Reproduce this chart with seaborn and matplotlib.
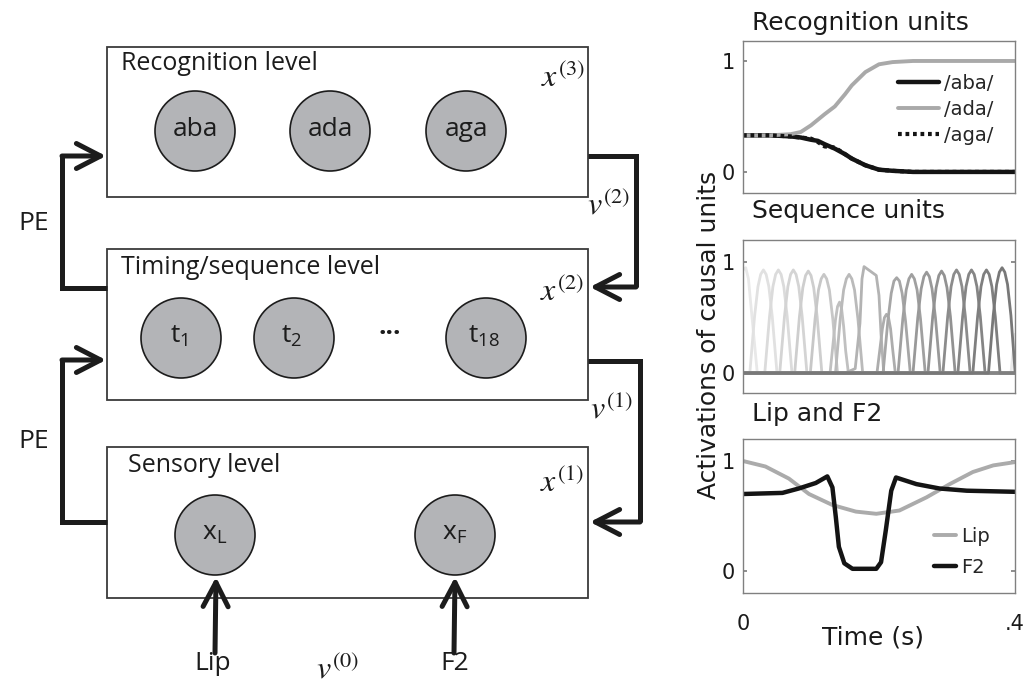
import matplotlib
matplotlib.use("Agg")
import matplotlib.pyplot as plt
from matplotlib.patches import Rectangle, Circle
import seaborn as sns
import pandas as pd

# ---------------- data ----------------
recog_time = [0.0, 0.04, 0.07, 0.085, 0.10, 0.11, 0.12, 0.135, 0.15, 0.16, 0.18, 0.20, 0.22, 0.25, 0.30, 0.40]
recog_aba = [0.33, 0.33, 0.32, 0.31, 0.29, 0.28, 0.25, 0.21, 0.16, 0.12, 0.06, 0.02, 0.01, 0.0, 0.0, 0.0]
recog_ada = [0.33, 0.33, 0.34, 0.36, 0.42, 0.47, 0.52, 0.59, 0.70, 0.78, 0.90, 0.97, 0.99, 1.0, 1.0, 1.0]
recog_aga = [0.33, 0.33, 0.32, 0.31, 0.30, 0.27, 0.23, 0.22, 0.16, 0.12, 0.06, 0.02, 0.01, 0.0, 0.0, 0.0]
recog_labels = ["/aba/", "/ada/", "/aga/"]

# one list per sequence unit (t1 ... t18)
seq_times = [
    [0.0, 0.004, 0.008, 0.013, 0.021, 0.394, 0.4],
    [0.0, 0.010, 0.017, 0.022, 0.026, 0.030, 0.034, 0.038, 0.043, 0.050, 0.4],
    [0.0, 0.032, 0.039, 0.044, 0.048, 0.052, 0.056, 0.060, 0.065, 0.072, 0.4],
    [0.0, 0.054, 0.061, 0.066, 0.070, 0.074, 0.078, 0.082, 0.087, 0.094, 0.4],
    [0.0, 0.076, 0.083, 0.088, 0.092, 0.096, 0.100, 0.104, 0.109, 0.116, 0.4],
    [0.0, 0.099, 0.106, 0.111, 0.115, 0.119, 0.123, 0.127, 0.132, 0.139, 0.4],
    [0.0, 0.128, 0.133, 0.136, 0.139, 0.142, 0.145, 0.148, 0.151, 0.155, 0.4],
    [0.0, 0.136, 0.143, 0.148, 0.152, 0.156, 0.160, 0.164, 0.169, 0.176, 0.4],
    [0.0, 0.150, 0.165, 0.172, 0.175, 0.178, 0.187, 0.196, 0.200, 0.203, 0.207, 0.4],
    [0.0, 0.197, 0.202, 0.205, 0.208, 0.211, 0.214, 0.217, 0.220, 0.224, 0.4],
    [0.0, 0.206, 0.213, 0.218, 0.222, 0.226, 0.230, 0.234, 0.239, 0.246, 0.4],
    [0.0, 0.228, 0.235, 0.240, 0.244, 0.248, 0.252, 0.256, 0.261, 0.268, 0.4],
    [0.0, 0.250, 0.257, 0.262, 0.266, 0.270, 0.274, 0.278, 0.283, 0.290, 0.4],
    [0.0, 0.272, 0.279, 0.284, 0.288, 0.292, 0.296, 0.300, 0.305, 0.312, 0.4],
    [0.0, 0.294, 0.301, 0.306, 0.310, 0.314, 0.318, 0.322, 0.327, 0.334, 0.4],
    [0.0, 0.316, 0.323, 0.328, 0.332, 0.336, 0.340, 0.344, 0.349, 0.356, 0.4],
    [0.0, 0.338, 0.345, 0.350, 0.354, 0.358, 0.362, 0.366, 0.371, 0.378, 0.4],
    [0.0, 0.361, 0.368, 0.373, 0.377, 0.381, 0.385, 0.389, 0.394, 0.400],
]
seq_acts = [
    [0.93, 0.95, 0.85, 0.52, 0.0, 0.0, 0.35],
    [0, 0, 0.51, 0.78, 0.89, 0.93, 0.89, 0.78, 0.51, 0, 0],
    [0, 0, 0.51, 0.78, 0.89, 0.93, 0.89, 0.78, 0.51, 0, 0],
    [0, 0, 0.51, 0.78, 0.89, 0.93, 0.89, 0.78, 0.51, 0, 0],
    [0, 0, 0.51, 0.77, 0.88, 0.92, 0.88, 0.77, 0.51, 0, 0],
    [0, 0, 0.49, 0.75, 0.85, 0.89, 0.85, 0.75, 0.49, 0, 0],
    [0, 0, 0.30, 0.48, 0.60, 0.64, 0.58, 0.42, 0.20, 0, 0],
    [0, 0, 0.49, 0.75, 0.85, 0.89, 0.85, 0.75, 0.49, 0, 0],
    [0, 0, 0.04, 0.45, 0.85, 0.96, 0.92, 0.88, 0.70, 0.35, 0, 0],
    [0, 0, 0.25, 0.40, 0.50, 0.53, 0.50, 0.40, 0.22, 0, 0],
    [0, 0, 0.47, 0.72, 0.83, 0.86, 0.83, 0.72, 0.47, 0, 0],
    [0, 0, 0.49, 0.75, 0.85, 0.89, 0.85, 0.75, 0.49, 0, 0],
    [0, 0, 0.50, 0.76, 0.87, 0.91, 0.87, 0.76, 0.50, 0, 0],
    [0, 0, 0.51, 0.77, 0.88, 0.92, 0.88, 0.77, 0.51, 0, 0],
    [0, 0, 0.51, 0.78, 0.89, 0.93, 0.89, 0.78, 0.51, 0, 0],
    [0, 0, 0.51, 0.78, 0.89, 0.93, 0.89, 0.78, 0.51, 0, 0],
    [0, 0, 0.51, 0.78, 0.89, 0.93, 0.89, 0.78, 0.51, 0, 0],
    [0, 0, 0.52, 0.80, 0.91, 0.95, 0.91, 0.80, 0.52, 0.02],
]

lip_time = [0.0, 0.033, 0.0675, 0.097, 0.1315, 0.166, 0.196, 0.23, 0.27, 0.304, 0.338, 0.368, 0.4]
lip_val = [1.0, 0.95, 0.84, 0.70, 0.60, 0.54, 0.52, 0.55, 0.67, 0.79, 0.90, 0.96, 0.99]
f2_time = [0.0, 0.058, 0.082, 0.107, 0.124, 0.1315, 0.1365, 0.141, 0.149, 0.161, 0.196, 0.203,
           0.210, 0.218, 0.225, 0.255, 0.289, 0.329, 0.4]
f2_val = [0.70, 0.71, 0.75, 0.80, 0.86, 0.76, 0.49, 0.22, 0.07, 0.02, 0.02, 0.08,
          0.37, 0.73, 0.85, 0.79, 0.75, 0.73, 0.72]

recog_nodes = ["aba", "ada", "aga"]
seq_nodes = ["t$_{1}$", "t$_{2}$", "t$_{18}$"]
sensory_nodes = ["x$_{\\mathrm{L}}$", "x$_{\\mathrm{F}}$"]
level_names = ["Recognition level", "Timing/sequence level", "Sensory level"]

# ---------------- style ----------------
sns.set_theme(style="white")
plt.rcParams["font.family"] = ["DejaVu Sans"]
plt.rcParams["mathtext.fontset"] = "stix"
plt.rcParams["mathtext.rm"] = "Open Sans"
plt.rcParams["mathtext.it"] = "Open Sans:italic"
plt.rcParams["mathtext.bf"] = "Open Sans:bold"
plt.rcParams["mathtext.sf"] = "Open Sans"

W, H = 1031, 688
fig = plt.figure(figsize=(W / 100, H / 100), dpi=100)

# ---------------- left: schematic, drawn in pixel space ----------------
ax0 = fig.add_axes([0, 0, 1, 1])
ax0.set_xlim(0, W)
ax0.set_ylim(H, 0)
ax0.axis("off")

diag_font = "Open Sans"
ink = "#1c1c1c"
box_x0, box_x1 = 107, 588
boxes = [(47, 197), (249, 400), (447, 598)]
for (y0, y1), name in zip(boxes, level_names):
    ax0.add_patch(Rectangle((box_x0, y0), box_x1 - box_x0, y1 - y0, fill=False, lw=1.3, ec="#3a3a3a"))
label_pos = [(121, 63), (121, 268), (128, 465)]
for (lx, ly), name in zip(label_pos, level_names):
    ax0.text(lx, ly, name, family=diag_font, fontsize=18, color=ink, ha="left", va="center")

node_r = 40
node_style = dict(fc="#b3b4b7", ec=ink, lw=1.2)
for cx, txt in zip([195, 330, 466], recog_nodes):
    ax0.add_patch(Circle((cx, 131), node_r, **node_style))
    ax0.text(cx, 129, txt, family=diag_font, fontsize=19, color=ink, ha="center", va="center")
for cx, txt in zip([181, 294, 486], seq_nodes):
    ax0.add_patch(Circle((cx, 338), node_r, **node_style))
    ax0.text(cx - 2, 336, txt, family=diag_font, math_fontfamily="custom", fontsize=19,
             color=ink, ha="center", va="center")
ax0.text(390, 326, "...", family=diag_font, fontsize=19, color=ink, ha="center", va="center",
         fontweight="bold")
for cx, txt in zip([215, 455], sensory_nodes):
    ax0.add_patch(Circle((cx, 535), node_r, **node_style))
    ax0.text(cx, 533, txt, family=diag_font, math_fontfamily="custom", fontsize=19,
             color=ink, ha="center", va="center")

arrow_lw = 3.6
head = "->,head_length=1.45,head_width=0.75"


def elbow(points):
    xs = [p[0] for p in points]
    ys = [p[1] for p in points]
    ax0.plot(xs[:-1], ys[:-1], color=ink, lw=arrow_lw, solid_joinstyle="miter", solid_capstyle="butt")
    ax0.annotate("", xy=points[-1], xytext=points[-2],
                 arrowprops=dict(arrowstyle=head, lw=arrow_lw, color=ink, shrinkA=0, shrinkB=0))


# prediction-error paths (left) and causal paths (right)
elbow([(107, 288), (62, 288), (62, 156), (106, 156)])
elbow([(107, 522), (62, 522), (62, 360), (106, 360)])
elbow([(588, 156), (636, 156), (636, 287), (590, 287)])
elbow([(588, 361), (640, 361), (640, 522), (590, 522)])
elbow([(215, 653), (216, 577)])
elbow([(454, 653), (455, 577)])

for ly in (224, 442):
    ax0.text(34, ly, "PE", family=diag_font, fontsize=19, color=ink, ha="center", va="center")
ax0.text(213, 664, "Lip", family=diag_font, fontsize=19, color=ink, ha="center", va="center")
ax0.text(455, 664, "F2", family=diag_font, fontsize=19, color=ink, ha="center", va="center")

sym = dict(fontsize=23, color=ink, ha="center", va="center")
ax0.text(563, 78, "$x^{(3)}$", **sym)
ax0.text(562, 292, "$x^{(2)}$", **sym)
ax0.text(562, 483, "$x^{(1)}$", **sym)
ax0.text(609, 206, "$v^{(2)}$", **sym)
ax0.text(612, 410, "$v^{(1)}$", **sym)
ax0.text(338, 670, "$v^{(0)}$", **sym)

# ---------------- right: activation traces ----------------
axw = 272 / W
ax_top = fig.add_axes([743 / W, 1 - 193 / H, axw, 152 / H])
ax_mid = fig.add_axes([743 / W, 1 - 393 / H, axw, 153 / H])
ax_bot = fig.add_axes([743 / W, 1 - 593 / H, axw, 154 / H])

rec_df = pd.DataFrame({"time": recog_time, "aba": recog_aba, "ada": recog_ada, "aga": recog_aga})
sns.lineplot(data=rec_df, x="time", y="aba", ax=ax_top, color="#141414", lw=3.2, label=recog_labels[0])
sns.lineplot(data=rec_df, x="time", y="ada", ax=ax_top, color="#a9a9a9", lw=2.8, label=recog_labels[1])
sns.lineplot(data=rec_df, x="time", y="aga", ax=ax_top, color="#141414", lw=3.0,
             dashes=False, label=recog_labels[2])
ax_top.lines[-1].set_dashes((0.9, 0.9))
ax_top.set_ylim(-0.19, 1.18)
ax_top.legend(loc="upper right", bbox_to_anchor=(0.965, 0.86), frameon=False, fontsize=14,
              handlelength=2.1, handletextpad=0.3, labelspacing=0.35, borderpad=0.1)

seq_rows = []
for i, (ts, vs) in enumerate(zip(seq_times, seq_acts)):
    for t, v in zip(ts, vs):
        seq_rows.append({"unit": i + 1, "time": t, "act": v})
seq_df = pd.DataFrame(seq_rows)
seq_pal = sns.blend_palette(["#e8e8e8", "#787878"], len(seq_times))
sns.lineplot(data=seq_df, x="time", y="act", hue="unit", palette=seq_pal, estimator=None,
             sort=False, lw=2.0, legend=False, ax=ax_mid)
ax_mid.set_ylim(-0.18, 1.2)

lip_df = pd.DataFrame({"time": lip_time, "val": lip_val})
f2_df = pd.DataFrame({"time": f2_time, "val": f2_val})
sns.lineplot(data=lip_df, x="time", y="val", ax=ax_bot, color="#ababab", lw=2.8, label="Lip")
sns.lineplot(data=f2_df, x="time", y="val", ax=ax_bot, color="#141414", lw=3.2, label="F2")
ax_bot.set_ylim(-0.2, 1.2)
ax_bot.legend(loc="lower right", bbox_to_anchor=(0.95, 0.03), frameon=False, fontsize=14,
              handlelength=1.15, handletextpad=0.25, labelspacing=0.6, borderpad=0.1)

for ax in (ax_top, ax_mid, ax_bot):
    ax.set_xlim(0, 0.4)
    ax.set_yticks([0, 1])
    ax.set_yticklabels(["0", "1"])
    ax.set_xlabel("")
    ax.set_ylabel("")
    ax.tick_params(axis="y", direction="in", length=3, left=True, right=True, labelsize=15,
                   pad=6, colors="#808080", labelcolor="#1a1a1a")
    for s in ax.spines.values():
        s.set_color("#808080")
        s.set_linewidth(1.0)
for ax in (ax_top, ax_mid):
    ax.set_xticks([])
ax_bot.set_xticks([0, 0.4])
ax_bot.set_xticklabels(["0", ".4"])
ax_bot.tick_params(axis="x", direction="in", length=0, labelsize=15, pad=15, labelcolor="#1a1a1a")

titles = [("Recognition units", 30), ("Sequence units", 218), ("Lip and F2", 421)]
for txt, base in titles:
    fig.text(752 / W, 1 - base / H, txt, fontsize=18, color="#1a1a1a", ha="left", va="baseline")
fig.text(873 / W, 1 - 637 / H, "Time (s)", fontsize=18, color="#1a1a1a", ha="center", va="center")
fig.text(709 / W, 1 - 335 / H, "Activations of causal units", fontsize=18, color="#1a1a1a",
         rotation=90, ha="center", va="center")

fig.savefig("out.png", dpi=100)
